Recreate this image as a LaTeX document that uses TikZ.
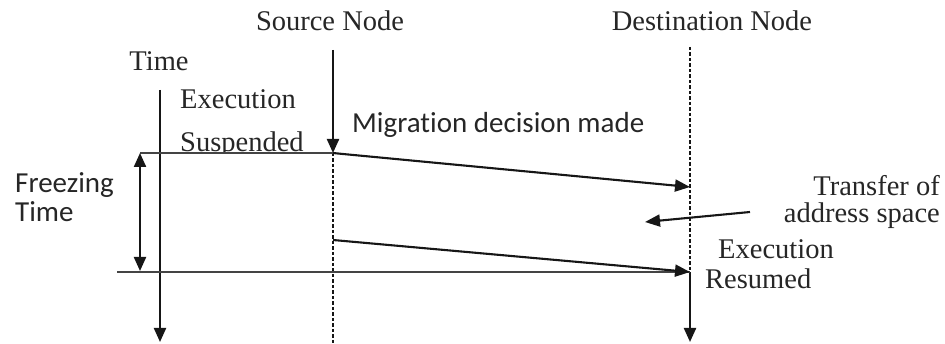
\documentclass[tikz,border=0pt]{standalone}
\usepackage{fontspec}
\setmainfont{Liberation Serif}
\newfontfamily\labelsans[Ligatures=NoCommon]{Carlito}
\usetikzlibrary{arrows.meta}
\definecolor{ink}{HTML}{161616}
\definecolor{txt}{HTML}{262626}
\definecolor{rule}{HTML}{444444}
\tikzset{
  lbl/.style={inner sep=0pt, text=txt, font=\fontsize{28.5}{34}\selectfont},
  slbl/.style={inner sep=0pt, text=txt, font=\labelsans\fontsize{29}{34}\selectfont},
  axis/.style={draw=ink, line width=2.2pt},
  tip/.style={-{Triangle[width=12pt,length=14pt]}},
  lifeline/.style={draw=ink, line width=2.2pt, dash pattern=on 3.2pt off 2.3pt},
  level/.style={draw=rule, line width=1.9pt},
  msg/.style={draw=ink, line width=2.1pt, -{Triangle[width=12pt,length=15pt]}}
}
\begin{document}
\begin{tikzpicture}[x=1pt,y=-1pt]
\useasboundingbox (0,0) rectangle (945,344);

% key points on the two node lifelines and the time axis
\coordinate (srcTop) at (333,50);
\coordinate (srcSusp) at (333,153);
\coordinate (srcBend) at (343,154);
\coordinate (srcSend) at (333,240);
\coordinate (srcEnd) at (333,344);
\coordinate (dstTop) at (690,47);
\coordinate (dstRecv) at (690,187);
\coordinate (dstRes) at (690,272);
\coordinate (dstEnd) at (690,342);
\coordinate (tTop) at (160,90);
\coordinate (tEnd) at (160,342);
\coordinate (frzTop) at (140,153);
\coordinate (frzBot) at (140,271);
\coordinate (lvlStart) at (117,272);
\coordinate (xferFrom) at (750,212);
\coordinate (xferTo) at (645,222);

% labels
\node[lbl, anchor=base] (srcLbl) at (330,31) {Source Node};
\node[lbl, anchor=base] (dstLbl) at (712,31) {Destination Node};
\node[lbl, anchor=base] (timeLbl) at (159,71) {Time};
\node[lbl, anchor=base west] (exec1) at (180,109) {Execution};
\begin{scope}
  \clip (170,120) rectangle (330,153);
  \node[lbl, anchor=base west] (susp) at (180,152) {Suspended};
\end{scope}
\node[slbl, anchor=base west] (mig) at (352,133) {Migration decision made};
\node[slbl, anchor=base west] (frz1) at (15,193) {Freezing};
\node[slbl, anchor=base west] (frz2) at (15,222) {Time};
\node[lbl, anchor=base east] (xfer1) at (940,196) {Transfer of};
\node[lbl, anchor=base east] (xfer2) at (940,223) {address space};
\node[lbl, anchor=base west] (exec2) at (718,259) {Execution};
\node[lbl, anchor=base west] (resm) at (705,289) {Resumed};

% time axis
\draw[axis, tip] (tTop) -- (tEnd);

% source node lifeline
\draw[axis, tip] (srcTop) -- (srcSusp);
\draw[lifeline] (srcSusp) -- (srcEnd);

% destination node lifeline
\draw[lifeline] (dstTop) -- (dstRes);
\draw[axis, tip] (dstRes) -- (dstEnd);

% suspension and resumption levels
\draw[level] (frzTop) -- (srcSusp);
\draw[level] (lvlStart) -- (dstRes);

% freezing time span
\draw[axis, {Triangle[width=12pt,length=14pt]}-{Triangle[width=12pt,length=14pt]}] (frzTop) -- (frzBot);

% messages between the nodes
\draw[msg] (srcSusp) -- (srcBend) -- (dstRecv);
\draw[msg] (srcSend) -- (dstRes);
\draw[msg] (xferFrom) -- (xferTo);
\end{tikzpicture}
\end{document}
